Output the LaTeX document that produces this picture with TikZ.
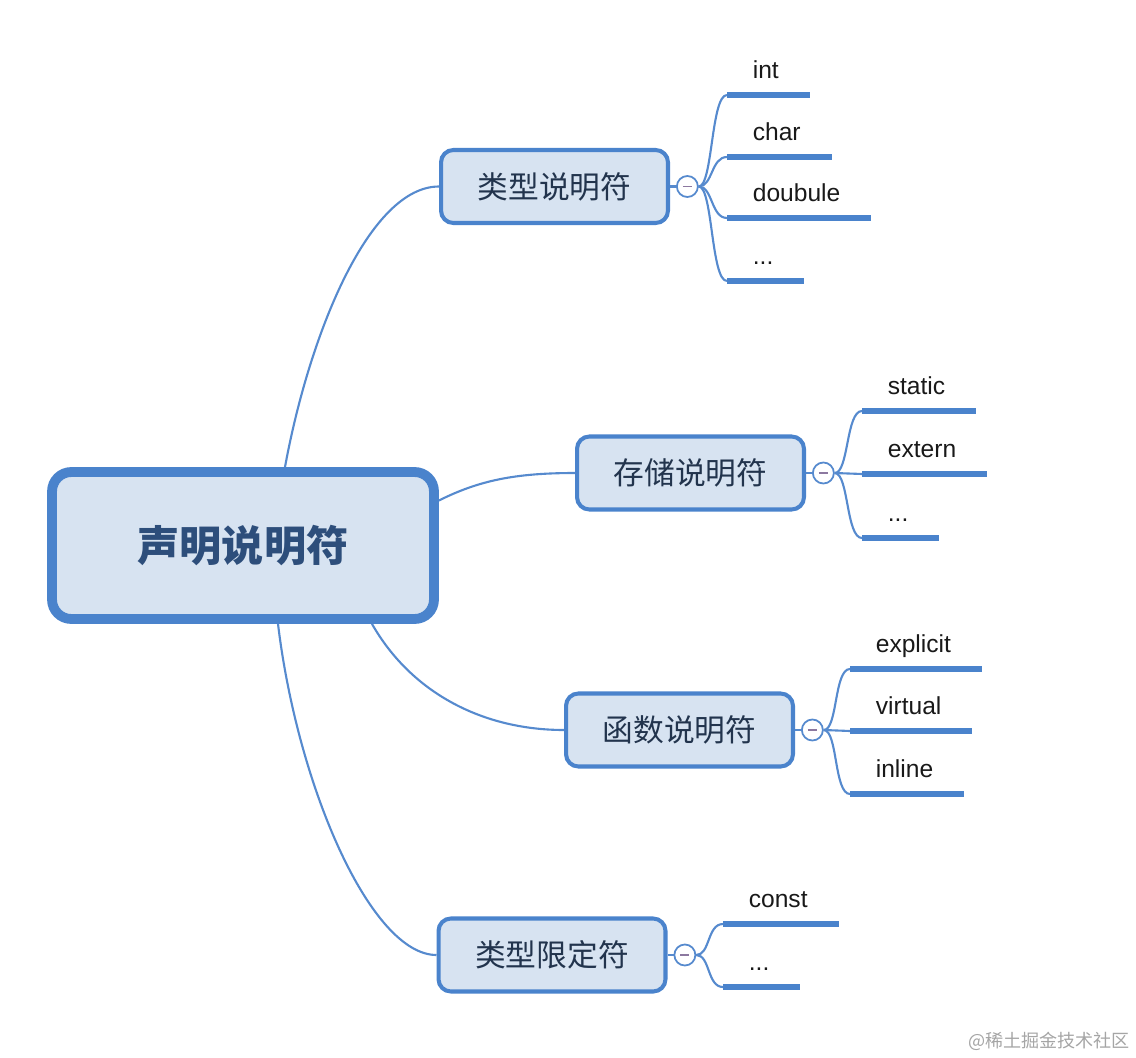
\documentclass[tikz,border=0pt]{standalone}
\usepackage{fontspec}
\setmainfont{Liberation Sans}
\newfontfamily\cjk{Noto Sans CJK SC}
\usetikzlibrary{positioning}
\definecolor{mapblue}{RGB}{74,131,204}
\definecolor{mapfill}{RGB}{215,227,241}
\definecolor{linkblue}{RGB}{86,138,206}
\definecolor{roottext}{RGB}{45,78,123}
\definecolor{branchtext}{RGB}{34,52,77}
\definecolor{foldmark}{RGB}{140,120,160}
\definecolor{markgray}{RGB}{165,165,165}

\begin{document}
\begin{tikzpicture}[x=0.02cm,y=-0.02cm]
\tikzset{
  root/.style={draw=mapblue,line width=5.6pt,fill=mapfill,rounded corners=11pt,minimum width=7.64cm,minimum height=2.94cm,font=\cjk\bfseries\fontsize{24}{28}\selectfont,text=roottext},
  branch/.style={draw=mapblue,line width=2.3pt,fill=mapfill,rounded corners=7pt,minimum width=4.54cm,minimum height=1.46cm,font=\cjk\fontsize{17.5}{20}\selectfont,text=branchtext},
  fold/.style={circle,draw=linkblue,fill=white,line width=1pt,minimum size=0.42cm,inner sep=0pt,
    path picture={\draw[foldmark,line width=0.9pt] ([xshift=-2.6pt]path picture bounding box.center) -- ([xshift=2.6pt]path picture bounding box.center);}},
  leaf/.style={anchor=south west,inner xsep=14.7pt,inner ysep=9.5pt,outer sep=0pt,text depth=0pt,font=\fontsize{14}{16}\selectfont,text=black!90},
  leafline/.style={mapblue,line width=3.4pt},
  link/.style={linkblue,line width=1.2pt}
}
\useasboundingbox (0,0) rectangle (1136,1058);

% centre and first level
\node[root] (root) at (243,545.5) {声明说明符};
\node[branch] (b1) at (554.5,186.5) {类型说明符};
\node[branch] (b2) at (690.5,473) {存储说明符};
\node[branch] (b3) at (679.5,730) {函数说明符};
\node[branch] (b4) at (552,955) {类型限定符};

\draw[link] ([xshift=0.84cm]root.north) .. controls +(25,-136) and +(-69,0) .. (b1.west);
\draw[link] ([yshift=0.9cm]root.east) .. controls +(40,-20) and +(-60,0) .. (b2.west);
\draw[link] ([xshift=2.58cm]root.south) .. controls +(40,70) and +(-80,0) .. (b3.west);
\draw[link] ([xshift=0.7cm]root.south) .. controls +(20,165) and +(-65,0) .. (b4.west);

\node[fold,right=0.12cm of b1] (f1) {};
\node[fold,right=0.12cm of b2] (f2) {};
\node[fold,right=0.12cm of b3] (f3) {};
\node[fold,right=0.12cm of b4] (f4) {};
\draw[link] (b1.east) -- (f1.west);
\draw[link] (b2.east) -- (f2.west);
\draw[link] (b3.east) -- (f3.west);
\draw[link] (b4.east) -- (f4.west);

% leaves
\node[leaf] (int) at (727,95) {int};
\node[leaf] (char) at (727,157) {char};
\node[leaf] (double) at (727,218) {doubule};
\node[leaf] (tdots) at (727,281) {...};
\node[leaf] (static) at (862,411) {static};
\node[leaf] (extern) at (862,474) {extern};
\node[leaf] (sdots) at (862,538) {...};
\node[leaf] (explicit) at (850,669) {explicit};
\node[leaf] (virtual) at (850,731) {virtual};
\node[leaf] (inline) at (850,794) {inline};
\node[leaf] (const) at (723,924) {const};
\node[leaf] (cdots) at (723,987) {...};

\draw[leafline] (int.south west) -- ([xshift=2.9pt]int.south east);
\draw[leafline] (char.south west) -- ([xshift=2.9pt]char.south east);
\draw[leafline] (double.south west) -- ([xshift=2.9pt]double.south east);
\draw[leafline] (tdots.south west) -- ([xshift=2.9pt]tdots.south east);
\draw[leafline] (static.south west) -- ([xshift=2.9pt]static.south east);
\draw[leafline] (extern.south west) -- ([xshift=2.9pt]extern.south east);
\draw[leafline] (sdots.south west) -- ([xshift=2.9pt]sdots.south east);
\draw[leafline] (explicit.south west) -- ([xshift=2.9pt]explicit.south east);
\draw[leafline] (virtual.south west) -- ([xshift=2.9pt]virtual.south east);
\draw[leafline] (inline.south west) -- ([xshift=2.9pt]inline.south east);
\draw[leafline] (const.south west) -- ([xshift=2.9pt]const.south east);
\draw[leafline] (cdots.south west) -- ([xshift=2.9pt]cdots.south east);

\draw[link] (f1.east) .. controls +(14,0) and +(-16,0) .. (int.south west);
\draw[link] (f1.east) .. controls +(14,0) and +(-16,0) .. (char.south west);
\draw[link] (f1.east) .. controls +(14,0) and +(-16,0) .. (double.south west);
\draw[link] (f1.east) .. controls +(14,0) and +(-16,0) .. (tdots.south west);
\draw[link] (f2.east) .. controls +(14,0) and +(-16,0) .. (static.south west);
\draw[link] (f2.east) -- (extern.south west);
\draw[link] (f2.east) .. controls +(14,0) and +(-16,0) .. (sdots.south west);
\draw[link] (f3.east) .. controls +(14,0) and +(-16,0) .. (explicit.south west);
\draw[link] (f3.east) -- (virtual.south west);
\draw[link] (f3.east) .. controls +(14,0) and +(-16,0) .. (inline.south west);
\draw[link] (f4.east) .. controls +(14,0) and +(-16,0) .. (const.south west);
\draw[link] (f4.east) .. controls +(14,0) and +(-16,0) .. (cdots.south west);

\node[font=\cjk\fontsize{10.3}{12}\selectfont,text=markgray] (mark) at (1049,1041) {@稀土掘金技术社区};
\end{tikzpicture}
\end{document}
